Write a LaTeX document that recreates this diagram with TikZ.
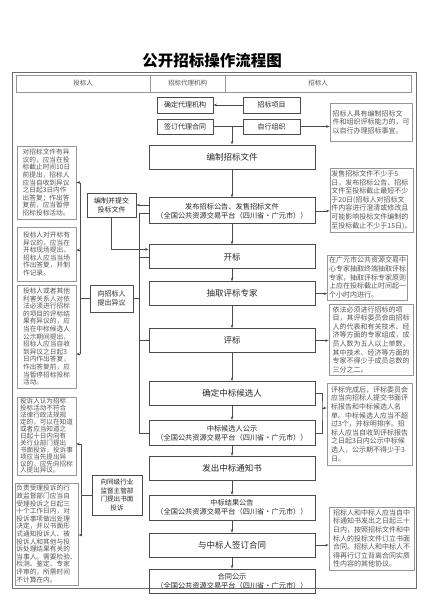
\documentclass[tikz,border=0pt]{standalone}
\usepackage{fontspec}
\setmainfont{Noto Sans CJK SC}
\usepackage{xcolor}
\usepackage{tikz}
\definecolor{flowline}{RGB}{75, 75, 75}
\definecolor{flowtext}{RGB}{40, 40, 40}
\definecolor{notegray}{RGB}{150, 150, 150}
\definecolor{notetext}{RGB}{85, 85, 85}
\definecolor{framegray}{RGB}{110, 110, 110}
\usetikzlibrary{arrows.meta,positioning,calc}
\tikzset{
    mainbox/.style={draw=flowline, line width=0.9pt, minimum width=166pt, minimum height=24pt,
                    inner sep=2pt, align=center, text=flowtext, font=\fontsize{8.5}{10}\selectfont},
    mainbox2/.style={mainbox, minimum height=25pt, font=\fontsize{7.2}{9}\selectfont},
    smallbox/.style={draw=flowline, line width=0.9pt, minimum height=16pt, inner sep=1pt,
                     align=center, text=flowtext, font=\fontsize{7}{9}\selectfont},
    notebox/.style={draw=notegray, line width=0.6pt, inner sep=1.5pt, align=left,
                    text=notetext, font=\fontsize{7}{8.6}\selectfont},
    leftnote/.style={notebox, minimum width=59pt, font=\fontsize{6.7}{7.6}\selectfont},
    headcell/.style={draw=notegray, line width=0.6pt, minimum height=17pt, inner sep=0pt,
                     text=notetext, font=\fontsize{6.5}{8}\selectfont},
    link/.style={draw=flowline, line width=0.6pt},
    arr/.style={link, -{Stealth[length=3.5pt,width=2.6pt]}}
}

\begin{document}
\begin{tikzpicture}[x=1pt,y=-1pt]
            \useasboundingbox (0,0) rectangle (424,600);
            \node[font=\fontsize{15.5}{18}\selectfont\bfseries, text=black] (title) at (212,61) {公开招标操作流程图};
            \draw[framegray, line width=1pt] (12,72) rectangle (416,588);

            % Header row
            \node[headcell, minimum width=134pt] (hbidder) at (83,83.5) {投标人};
            \node[headcell, minimum width=75pt] (hagent) at (187.5,83.5) {招标代理机构};
            \node[headcell, minimum width=186pt] (htenderer) at (318,83.5) {招标人};

            % Agency choice
            \node[smallbox, minimum width=56pt] (agency) at (185,105) {确定代理机构};
            \node[smallbox, minimum width=57pt] (project) at (271.5,105) {招标项目};
            \node[smallbox, minimum width=56pt, minimum height=15pt] (contract) at (185,126.5) {签订代理合同};
            \node[smallbox, minimum width=57pt, minimum height=15pt] (selforg) at (271.5,126.5) {自行组织};

            % Main flow diagram
            \node[mainbox] (compile) at (232,157) {编制招标文件};
            \node[mainbox2, minimum height=26pt, below=28pt of compile] (publish) {发布招标公告、发售招标文件\\（全国公共资源交易平台（四川省・广元市））};
            \node[mainbox, below=20pt of publish] (open) {开标};
            \node[mainbox, below=12pt of open] (expert) {抽取评标专家};
            \node[mainbox, below=22pt of expert] (review) {评标};
            \node[mainbox, below=28pt of review] (decide) {确定中标候选人};
            \node[mainbox2, below=14pt of decide] (notice) {中标候选人公示\\（全国公共资源交易平台（四川省・广元市））};
            \node[mainbox, below=10pt of notice] (letter) {发出中标通知书};
            \node[mainbox2, below=14pt of letter] (result) {中标结果公告\\（全国公共资源交易平台（四川省・广元市））};
            \node[mainbox, below=12pt of result] (sign) {与中标人签订合同};
            \node[mainbox2, minimum height=24pt, below=11pt of sign] (pubcontract) {合同公示\\（全国公共资源交易平台（四川省・广元市））};

            % Bidder side
            \node[smallbox, minimum width=49pt, minimum height=24pt] (bid) at (111.5,205) {编制并提交\\投标文件};
            \node[smallbox, minimum width=43pt, minimum height=27pt] (raise) at (111.5,298.5) {向招标人\\提出异议};
            \node[smallbox, minimum width=50pt, minimum height=40pt, font=\fontsize{6.6}{8.5}\selectfont] (complain) at (117,495) {向同级行业\\监督主管部\\门提出书面\\投诉};

            \node[leftnote, minimum height=73pt] (qa) at (46.5,182.5) {对招标文件有异\\议的，应当在投\\标截止时间10日\\前提出，招标人\\应当自收到异议\\之日起3日内作\\出答复；作出答\\复前，应当暂停\\招标投标活动。};
            \node[leftnote, minimum height=54pt] (qb) at (46.5,254) {投标人对开标有\\异议的，应当在\\开标现场提出，\\招标人应当当场\\作出答复，并制\\作记录。};
            \node[leftnote, minimum height=103pt] (qc) at (46.5,336.5) {投标人或者其他\\利害关系人对依\\法必须进行招标\\的项目的评标结\\果有异议的，应\\当在中标候选人\\公示期间提出，\\招标人应当自收\\到异议之日起3\\日内作出答复，\\作出答复前，应\\当暂停招标投标\\活动。};
            \node[leftnote, minimum height=78pt, font=\fontsize{6.6}{6.9}\selectfont] (qd) at (46.5,436) {投诉人认为招标\\投标活动不符合\\法律行政法规规\\定的，可以在知道\\或者应当知道之\\日起十日内向有\\关行业部门提出\\书面投诉，投诉事\\项应当先提出异\\议的，应先向招标\\人提出异议。};
            \node[leftnote, minimum height=102pt] (qe) at (46.5,534) {负责受理投诉的行\\政监督部门应当自\\受理投诉之日起三\\十个工作日内，对\\投诉事项做出处理\\决定，并以书面形\\式通知投诉人、被\\投诉人和其他与投\\诉处理结果有关的\\当事人。需要检验、\\检测、鉴定、专家\\评审的，所需时间\\不计算在内。};

            % Tenderer notes
            \node[notebox, minimum width=82pt, minimum height=38pt] (n1) at (371,122) {招标人具有编制招标文\\件和组织评标能力的，可\\以自行办理招标事宜。};
            \node[notebox, minimum width=83pt, minimum height=64pt] (n2) at (371.5,200) {发售招标文件不少于5\\日，发布招标公告、招标\\文件至投标截止最短不少\\于20日(招标人对招标文\\件内容进行澄清或修改且\\可能影响投标文件编制的\\至投标截止不少于15日)。};
            \node[notebox, minimum width=77pt, minimum height=45pt] (n3) at (367.5,277.5) {在广元市公共资源交易中\\心专家抽取终端抽取评标\\专家，抽取评标专家原则\\上应在投标截止时间起一\\个小时内进行。};
            \node[notebox, minimum width=84pt, minimum height=71pt] (n4) at (371,339.5) {依法必须进行招标的项\\目，其评标委员会由招标\\人的代表和有关技术、经\\济等方面的专家组成，成\\员人数为五人以上单数，\\其中技术、经济等方面的\\专家不得少于成员总数的\\三分之二。};
            \node[notebox, minimum width=85pt, minimum height=82pt] (n5) at (369.5,424) {评标完成后，评标委员会\\应当向招标人提交书面评\\标报告和中标候选人名\\单。中标候选人应当不超\\过3个，并标明排序。招\\标人应当自收到评标报告\\之日起3日内公示中标候\\选人，公示期不得少于3\\日。};
            \node[notebox, minimum width=85pt, minimum height=63pt] (n6) at (371.5,538.5) {招标人和中标人应当自中\\标通知书发出之日起三十\\日内，按照招标文件和中\\标人的投标文件订立书面\\合同。招标人和中标人不\\得再行订立背离合同实质\\性内容的其他协议。};

            % Connectors
            \draw[arr] (project) -- (agency);
            \draw[link] (contract) -- (selforg);
            \draw[arr] (compile.north |- contract.east) -- (compile.north);
            \draw[arr] (selforg.east) -- (selforg.east -| n1.west);
            \foreach \a/\b in {compile/publish, publish/open, open/expert, expert/review, review/decide,
                               decide/notice, notice/letter, letter/result, result/sign, sign/pubcontract}
                \draw[arr] (\a) -- (\b);

            \draw[arr] (publish.west |- bid.east) -- (bid.east);
            \draw[arr] (bid.south) |- ([yshift=-5pt]open.north west);
            \coordinate (bustop) at (139,213);
            \draw[link] (publish.west |- bustop) -- (bustop) |- (notice.west);
            \foreach \b in {open, review}
                \draw[link] (\b.west) -- (\b.west -| bustop);
            \draw[link] (raise.east) -- (raise.east -| bustop);

            \coordinate (lka) at (80,182.5);
            \coordinate (lkb) at (80,250);
            \coordinate (lkc) at (80,354);
            \draw[link] (lka) -- (lkc);
            \draw[link] (raise.west) -- (raise.west -| lka);
            \foreach \p/\q in {lka/qa, lkb/qb, lkc/qc}
                \draw[arr] (\p) -- (\p -| \q.east);

            \coordinate (lkd) at (81,444);
            \coordinate (lke) at (81,535);
            \draw[link] (lkd) -- (lke);
            \draw[link] (complain.west) -- (complain.west -| lkd);
            \foreach \p/\q in {lkd/qd, lke/qe}
                \draw[arr] (\p) -- (\p -| \q.east);

            \draw[arr] (publish.east) -- (publish.east -| n2.west);
            \draw[arr] (expert.east) -- (expert.east -| n3.west);
            \draw[arr] (review.east) -- (review.east -| n4.west);
            \coordinate (rk) at (322,408);
            \draw[link] (decide.east) -| (rk) |- (notice.east);
            \draw[arr] (rk) -- (rk -| n5.west);
            \draw[arr] (sign.east) -- (sign.east -| n6.west);
        \end{tikzpicture}
\end{document}
